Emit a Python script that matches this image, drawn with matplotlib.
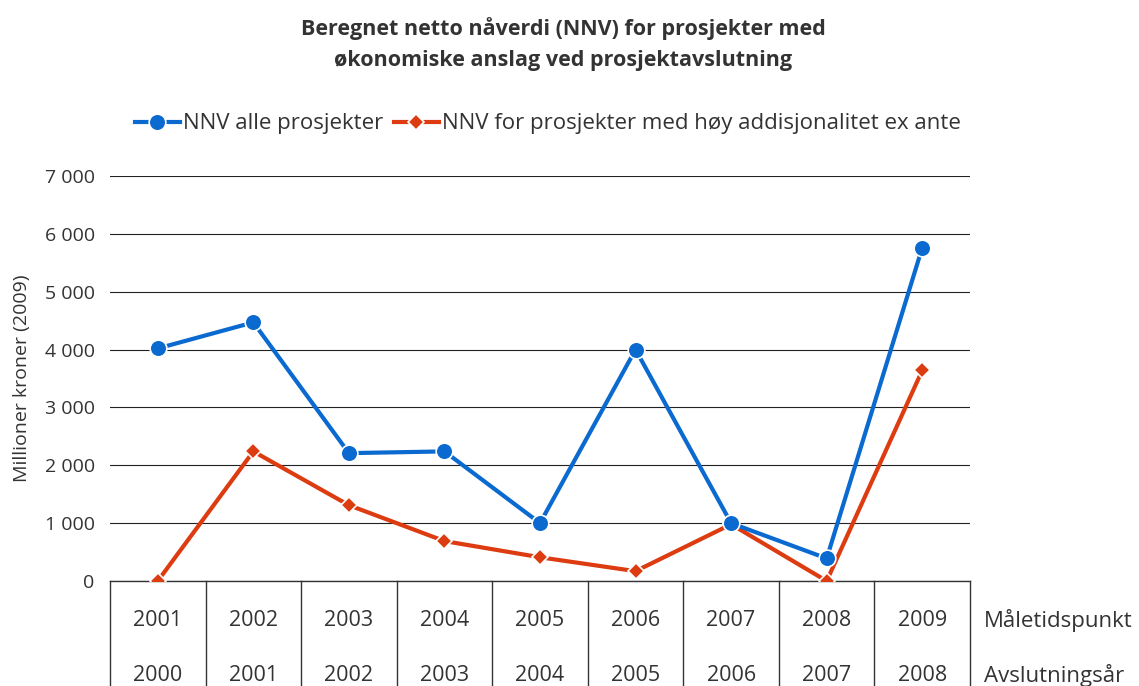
import numpy as np
import matplotlib.pyplot as plt
from matplotlib.lines import Line2D

plt.rcParams['font.family'] = ['Open Sans', 'DejaVu Sans']

# data
maaletidspunkt = ["2001", "2002", "2003", "2004", "2005", "2006", "2007", "2008", "2009"]
avslutningsaar = ["2000", "2001", "2002", "2003", "2004", "2005", "2006", "2007", "2008"]
nnv_alle = [4020, 4470, 2210, 2240, 1000, 4000, 1000, 390, 5760]
nnv_hoy = [0, 2240, 1310, 690, 410, 170, 980, 0, 3640]

blue = "#0A6AD0"
red = "#DD3B10"
txt = "#333333"

fig = plt.figure(figsize=(11.39, 6.86), dpi=100)
ax = fig.add_axes([110 / 1139, 1 - 581 / 686, 860 / 1139, 405 / 686])

x = np.arange(len(maaletidspunkt))
ax.plot(x, nnv_alle, color=blue, lw=3, marker="o", ms=12,
        markerfacecolor=blue, markeredgecolor="white", markeredgewidth=1.2, zorder=4)
ax.plot(x, nnv_hoy, color=red, lw=3, marker="D", ms=8.5,
        markerfacecolor=red, markeredgecolor="white", markeredgewidth=1.2, zorder=3)

ax.set_xlim(-0.5, len(x) - 0.5)
ax.set_ylim(0, 7000)
ax.set_yticks(range(0, 7001, 1000))
ax.set_yticklabels([f"{v:,}".replace(",", " ") for v in range(0, 7001, 1000)],
                   fontsize=14, color=txt)
ax.tick_params(axis="y", length=0, pad=11)
ax.set_xticks([])
ax.grid(axis="y", color="#222222", lw=0.8)
ax.set_axisbelow(True)
for s in ["top", "right", "left"]:
    ax.spines[s].set_visible(False)
ax.spines["bottom"].set_color("#333333")
ax.spines["bottom"].set_linewidth(1.0)
ax.spines["bottom"].set_zorder(2)

ax.set_ylabel("Millioner kroner (2009)", fontsize=14, color=txt, labelpad=10)

# category table under the axis
for i in range(len(x) + 1):
    ax.plot([i - 0.5, i - 0.5], [0, -1820], color="#333333", lw=1.0,
            clip_on=False, zorder=1)
for i in range(len(x)):
    ax.text(i, -680, maaletidspunkt[i], ha="center", va="center", fontsize=15.5, color=txt)
    ax.text(i, -1630, avslutningsaar[i], ha="center", va="center", fontsize=15.5, color=txt)
ax.text(8.65, -680, "Måletidspunkt", ha="left", va="center", fontsize=16, color=txt)
ax.text(8.65, -1630, "Avslutningsår", ha="left", va="center", fontsize=16, color=txt)

fig.text(563 / 1139, 1 - 44 / 686,
         "Beregnet netto nåverdi (NNV) for prosjekter med\nøkonomiske anslag ved prosjektavslutning",
         ha="center", va="center", fontsize=15.5, fontweight="bold", color=txt, linespacing=1.6)

handles = [
    Line2D([], [], color=blue, lw=3, marker="o", ms=12, markerfacecolor=blue,
           markeredgecolor="white", markeredgewidth=1.2),
    Line2D([], [], color=red, lw=3, marker="D", ms=8.5, markerfacecolor=red,
           markeredgecolor="white", markeredgewidth=1.2),
]
fig.legend(handles, ["NNV alle prosjekter", "NNV for prosjekter med høy addisjonalitet ex ante"],
           loc="center", bbox_to_anchor=(548 / 1139, 1 - 124 / 686), ncol=2,
           frameon=False, fontsize=16, handlelength=2.0, handletextpad=0.15,
           columnspacing=0.5, labelcolor=txt)

fig.savefig("out.png", dpi=100)
